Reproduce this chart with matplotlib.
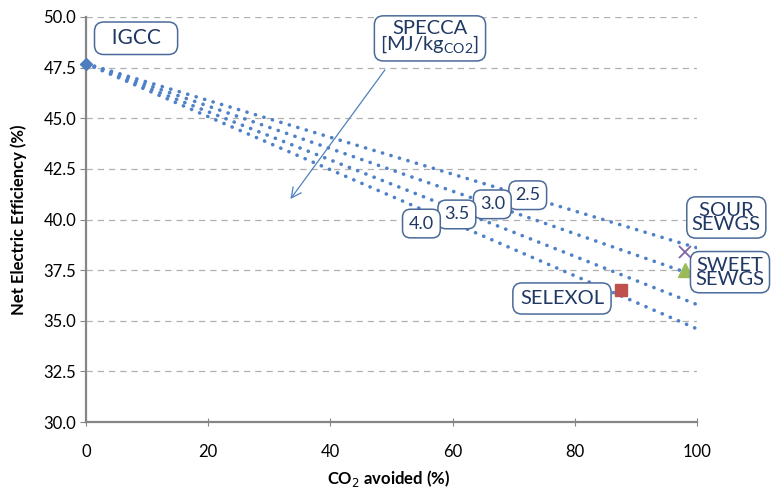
import matplotlib.pyplot as plt

plt.rcParams['font.family'] = ['Lato', 'DejaVu Sans']

# SPECCA iso-lines: start at IGCC, end at 100% CO2 avoided
specca = ["2.5", "3.0", "3.5", "4.0"]
line_x = [0, 100]
line_start = 47.7
line_end = [38.6, 37.2, 35.8, 34.6]

# capture technologies
igcc = (0, 47.7)
sour = (98, 38.4)
sweet = (98, 37.5)
selexol = (87.6, 36.5)

navy = '#1F3864'
blue = '#4F81C8'


def box(pad):
    return dict(boxstyle=f'round,pad={pad},rounding_size=0.45', fc='white', ec='#4A6A99', lw=1.1)


fig = plt.figure(figsize=(7.71, 4.94), dpi=100)
ax = fig.add_axes([0.1115, 0.1457, 0.7925, 0.8199])

for end in line_end:
    ax.plot(line_x, [line_start, end], color=blue, lw=2.6,
            linestyle=(0, (0.05, 2.4)), dash_capstyle='round', zorder=2)

ax.plot(*igcc, marker='D', color='#4F7DBD', ms=6, zorder=4, clip_on=False)
ax.plot(*sour, marker='x', color='#8064A2', ms=9, mew=1.3, zorder=4)
ax.plot(*sweet, marker='^', color='#9BBB59', ms=10, zorder=4)
ax.plot(*selexol, marker='s', color='#C0504D', ms=9, zorder=4)

tkw = dict(color=navy, ha='center', va='center', zorder=5)
ax.text(8.2, 48.95, '  IGCC  ', fontsize=15, bbox=box(0.3), **tkw)
ax.text(56.3, 49.0, 'SPECCA\n[MJ/kg$_{\\mathregular{CO2}}$]', fontsize=14.5,
        linespacing=0.8, bbox=box(0.3), **tkw)
ax.annotate('', xy=(33.2, 40.9), xytext=(49.2, 47.5),
            arrowprops=dict(arrowstyle='->', color='#4F81BD', lw=0.9, mutation_scale=18),
            zorder=3)

num_pos = [(72.3, 41.2), (66.5, 40.75), (60.7, 40.25), (54.9, 39.8)]
for lab, (x, y) in zip(specca, num_pos):
    ax.text(x, y, lab, fontsize=13, bbox=box(0.35), **tkw)

ax.text(104.8, 40.1, ' SOUR \nSEWGS', fontsize=14.5, linespacing=0.8, clip_on=False,
        bbox=box(0.25), **tkw)
ax.text(105.4, 37.4, 'SWEET\nSEWGS', fontsize=14.5, linespacing=0.8, clip_on=False,
        bbox=box(0.25), **tkw)
ax.text(77.9, 36.1, 'SELEXOL', fontsize=14.5, bbox=box(0.35), **tkw)

ax.set_xlim(0, 100)
ax.set_ylim(30, 50)
ax.set_xticks([0, 20, 40, 60, 80, 100])
ax.set_yticks([30 + 2.5 * i for i in range(9)])
ax.set_yticklabels([f'{30 + 2.5 * i:.1f}' for i in range(9)])
ax.grid(axis='y', color='#B0B0B0', linestyle=(0, (5, 4)), lw=0.9)
ax.set_axisbelow(True)

for s in ['top', 'right']:
    ax.spines[s].set_visible(False)
for s in ['left', 'bottom']:
    ax.spines[s].set_color('#868686')
    ax.spines[s].set_linewidth(1.6)
ax.tick_params(axis='x', direction='inout', length=6, color='#868686', labelsize=12, pad=13)
ax.tick_params(axis='y', direction='out', length=4, color='#868686', labelsize=12, pad=3)

fig.text(0.504, 0.032, 'CO$_2$ avoided (%)', fontsize=12, fontweight='bold',
         ha='center', va='center')
ax.set_ylabel('Net Electric Efficiency (%)', fontsize=12, fontweight='bold', labelpad=12)

plt.savefig('out.png', dpi=100)
